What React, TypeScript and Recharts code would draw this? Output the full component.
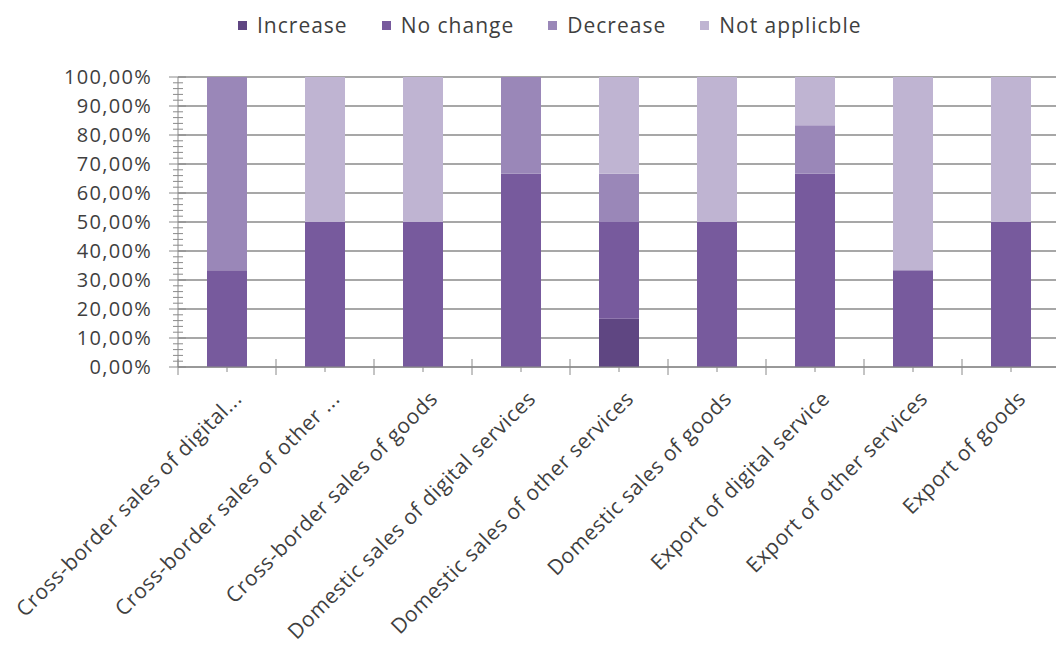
import React from 'react';
import {
  BarChart,
  Bar,
  XAxis,
  YAxis,
  CartesianGrid,
  Legend
} from 'recharts';

// categories as printed under the axis (labels are already cut in the source)
const categories = [
  'Cross-border sales of digital...',
  'Cross-border sales of other ...',
  'Cross-border sales of goods',
  'Domestic sales of digital services',
  'Domestic sales of other services',
  'Domestic sales of goods',
  'Export of digital service',
  'Export of other services',
  'Export of goods'
];

// shares in percent
const increase = [0, 0, 0, 0, 16.67, 0, 0, 0, 0];
const noChange = [33.33, 50, 50, 66.67, 33.33, 50, 66.67, 33.33, 50];
const decrease = [66.67, 0, 0, 33.33, 16.67, 0, 16.67, 0, 0];
const notApplicable = [0, 50, 50, 0, 33.33, 50, 16.66, 66.67, 50];

const majorTicks = [0, 10, 20, 30, 40, 50, 60, 70, 80, 90, 100];
const minorTicks = Array.from({ length: 51 }, (_, i) => i * 2);

const SERIES = [
  { key: 'increase', name: 'Increase', color: '#5f4682' },
  { key: 'noChange', name: 'No change', color: '#775a9d' },
  { key: 'decrease', name: 'Decrease', color: '#9a87b8' },
  { key: 'notApplicable', name: 'Not applicble', color: '#bfb4d2' }
];

const data = categories.map((name, i) => ({
  name,
  increase: increase[i],
  noChange: noChange[i],
  decrease: decrease[i],
  notApplicable: notApplicable[i]
}));

const CHART_W = 1064;
const CHART_H = 649;
const Y_W = 178;
const LEGEND_H = 28;
const MARGIN = { top: 77 - LEGEND_H, right: 4, bottom: 12, left: 0 };
const BAND = (CHART_W - Y_W - MARGIN.left - MARGIN.right) / categories.length;
const Y_GAP = 26;
const FONT = '"Open Sans", sans-serif';
const AXIS = '#8a8a8a';
const TEXT = '#3f3f3f';

const fmt = (v: number) => v.toFixed(2).replace('.', ',') + '%';

const YTick = ({ x, y, payload }: any) => {
  const v = payload.value as number;
  const major = v % 10 === 0;
  const ax = x + Y_GAP;
  return (
    <g>
      <line x1={ax - (major ? 9 : 5)} x2={ax + (major ? 8 : 5)} y1={y} y2={y} stroke={AXIS} />
      {major && (
        <text x={x} y={y} dy={7} textAnchor="end" fill={TEXT} fontSize={20} fontFamily={FONT} letterSpacing={1.3}>
          {fmt(v)}
        </text>
      )}
    </g>
  );
};

const XTick = ({ x, y, payload, index }: any) => {
  const tx = x + 16;
  const ty = y + 33;
  return (
    <g>
      <line x1={x - BAND / 2} x2={x - BAND / 2} y1={y - 8} y2={y + 8} stroke={AXIS} />
      {index === categories.length - 1 && (
        <line x1={x + BAND / 2} x2={x + BAND / 2} y1={y - 8} y2={y + 8} stroke={AXIS} />
      )}
      <line x1={x} x2={x} y1={y} y2={y + 5} stroke={AXIS} />
      <text
        x={tx}
        y={ty}
        textAnchor="end"
        fill={TEXT}
        fontSize={21}
        fontFamily={FONT}
        letterSpacing={0.6}
        transform={`rotate(-45 ${tx} ${ty})`}
      >
        {payload.value}
      </text>
    </g>
  );
};

const LegendContent = () => (
  <div style={{ display: 'flex', height: LEGEND_H, alignItems: 'center', fontFamily: FONT, fontSize: 21, color: TEXT, letterSpacing: 1 }}>
    {SERIES.map(s => (
      <div key={s.key} style={{ display: 'flex', alignItems: 'center', marginRight: 34 }}>
        <span style={{ width: 9, height: 9, background: s.color, display: 'inline-block', marginRight: 10 }} />
        <span>{s.name}</span>
      </div>
    ))}
  </div>
);

export default function App() {
  return (
    <div style={{ position: 'absolute', left: 0, top: 0, width: 1056, height: 649, overflow: 'hidden', background: '#fff' }}>
      <BarChart width={CHART_W} height={CHART_H} data={data} margin={MARGIN} barSize={40}>
        <CartesianGrid
          vertical={false}
          stroke={AXIS}
          strokeWidth={1.3}
          horizontalCoordinatesGenerator={({ yAxis, offset }: any) =>
            majorTicks.map(t =>
              yAxis && typeof yAxis.scale === 'function'
                ? yAxis.scale(t)
                : offset.top + offset.height * (1 - t / 100)
            )
          }
        />
        <XAxis
          dataKey="name"
          interval={0}
          height={270}
          tickSize={0}
          tickMargin={0}
          tickLine={false}
          stroke={AXIS}
          tick={<XTick />}
        />
        <YAxis
          width={Y_W}
          domain={[0, 100]}
          ticks={minorTicks}
          interval={0}
          allowDataOverflow
          tickSize={0}
          tickMargin={Y_GAP}
          tickLine={false}
          stroke={AXIS}
          tick={<YTick />}
        />
        <Legend
          verticalAlign="top"
          align="left"
          content={<LegendContent />}
          wrapperStyle={{ top: 11, left: 238, width: 660 }}
        />
        {SERIES.map(s => (
          <Bar key={s.key} dataKey={s.key} name={s.name} stackId="a" fill={s.color} isAnimationActive={false} />
        ))}
      </BarChart>
    </div>
  );
}
